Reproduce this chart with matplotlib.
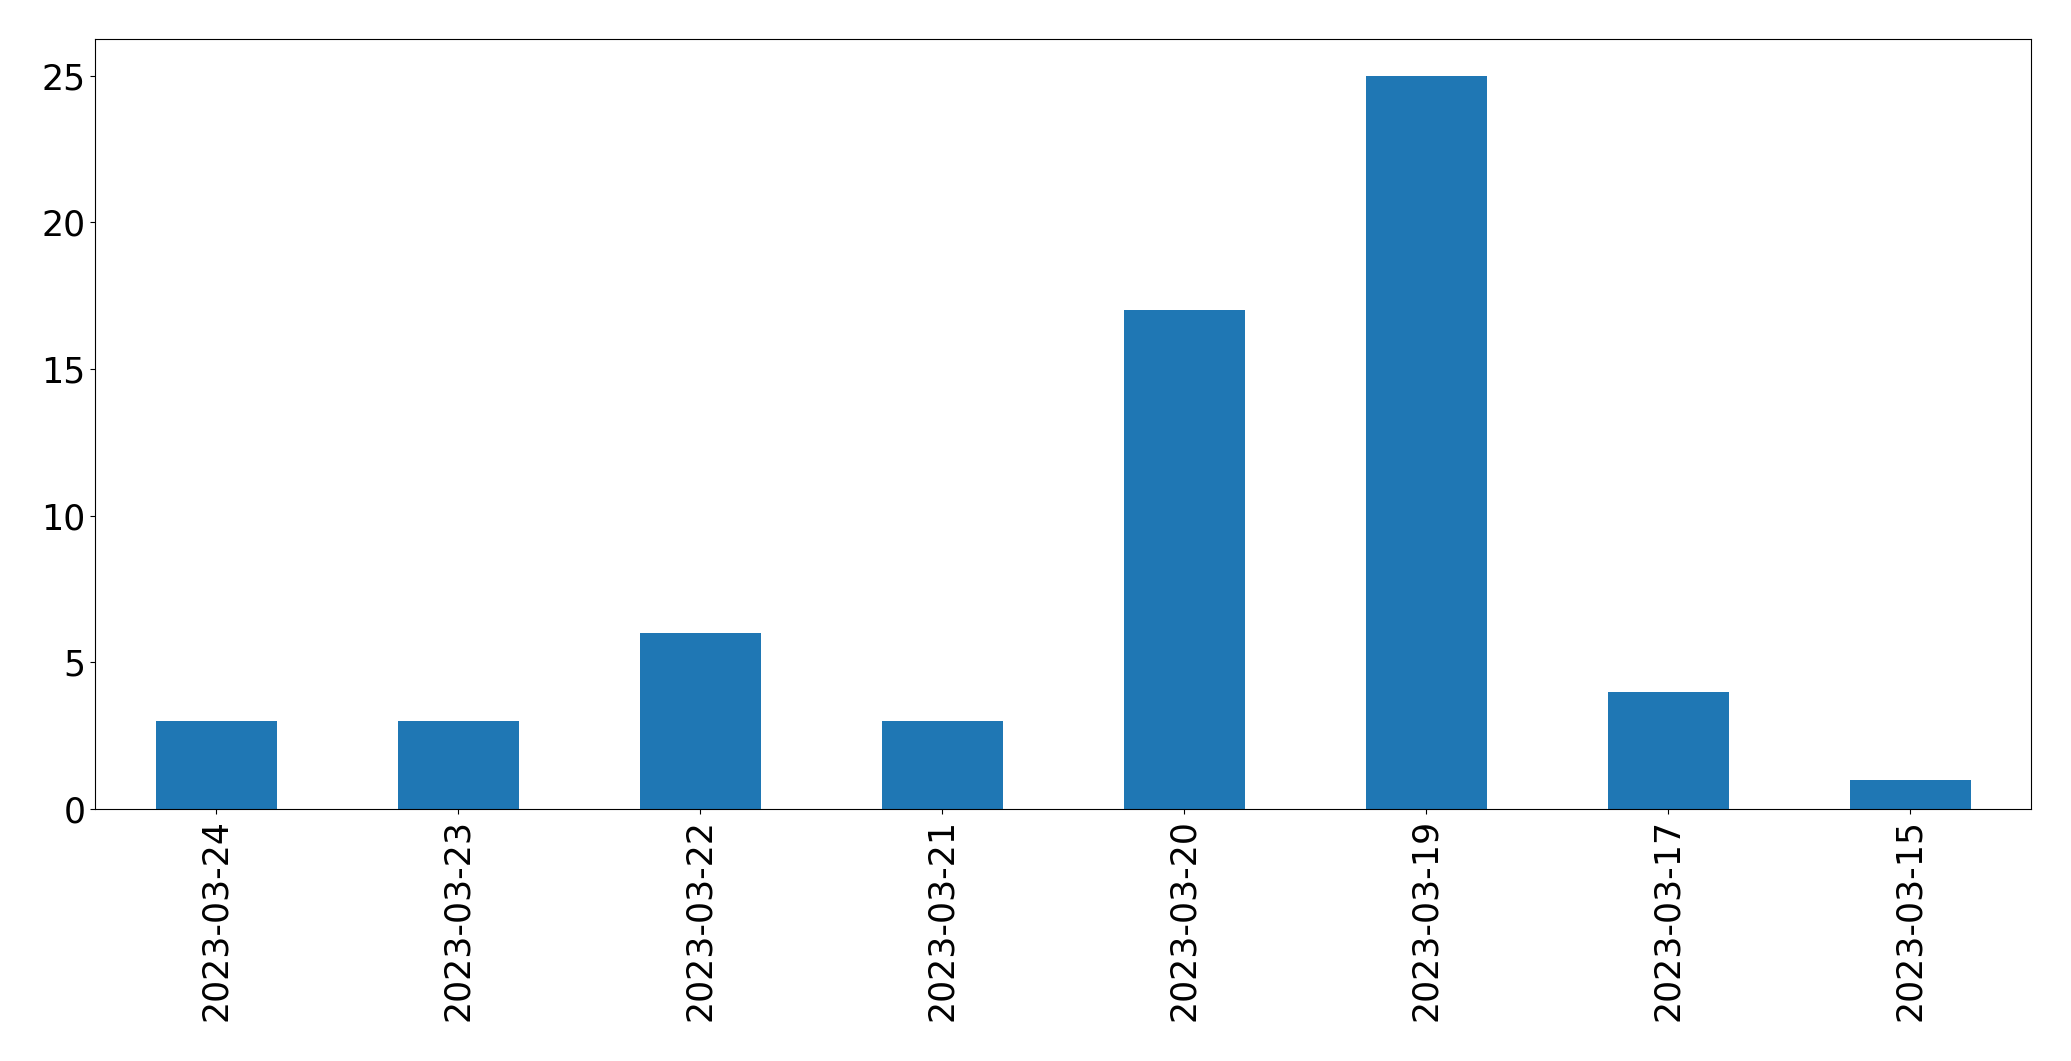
import matplotlib
matplotlib.use("Agg")
import matplotlib.pyplot as plt
import pandas as pd

# dates and counts
dates = ["2023-03-24", "2023-03-23", "2023-03-22", "2023-03-21",
         "2023-03-20", "2023-03-19", "2023-03-17", "2023-03-15"]
counts = [3, 3, 6, 3, 17, 25, 4, 1]

s = pd.Series(counts, index=dates)

fig = plt.figure(figsize=(20.71, 10.61), dpi=100)
ax = fig.add_axes([95 / 2071, 1 - 809 / 1061, 1936 / 2071, 770 / 1061])
s.plot(kind="bar", ax=ax, color="#1f77b4")

ax.tick_params(axis="both", labelsize=25)

fig.savefig("out.png", dpi=100)
